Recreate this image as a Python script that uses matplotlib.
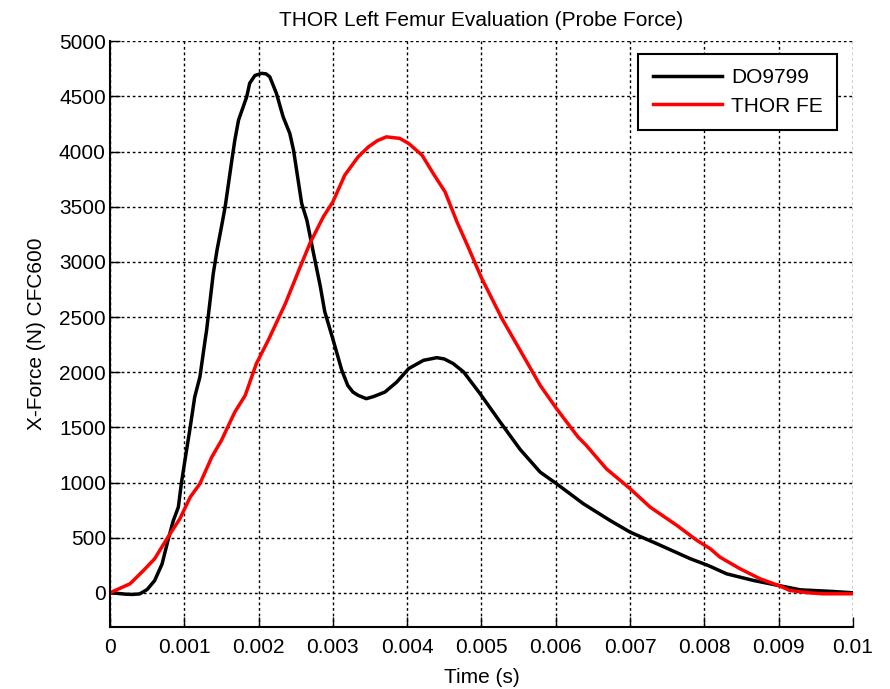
import numpy as np
import matplotlib.pyplot as plt

plt.rcParams['font.family'] = ['Liberation Sans', 'DejaVu Sans']

# DO9799 probe force, time in ms and force in N
do_t = [0.0, 0.1, 0.2, 0.3, 0.4, 0.5, 0.6, 0.7, 0.78, 0.85, 0.92, 0.96, 1.02,
        1.08, 1.14, 1.21, 1.28, 1.30, 1.39, 1.44, 1.50, 1.55, 1.64, 1.68, 1.73,
        1.84, 1.88, 1.95, 2.04, 2.10, 2.15, 2.24, 2.33, 2.42, 2.47, 2.58, 2.65,
        2.74, 2.83, 2.89, 3.00, 3.12, 3.20, 3.27, 3.34, 3.45, 3.55, 3.70, 3.86,
        4.02, 4.22, 4.40, 4.50, 4.62, 4.76, 4.98, 5.25, 5.52, 5.79, 6.01, 6.37,
        6.73, 7.00, 7.36, 7.81, 8.05, 8.30, 8.66, 9.00, 9.29, 9.73, 10.0]
do_f = [0, -5, -12, -15, -10, 30, 110, 260, 475, 650, 777, 990, 1250,
        1503, 1775, 1957, 2290, 2380, 2895, 3106, 3318, 3500, 3923, 4104, 4286,
        4497, 4620, 4690, 4710, 4705, 4679, 4528, 4316, 4165, 4014, 3530, 3378,
        3076, 2780, 2550, 2300, 2017, 1880, 1820, 1790, 1760, 1780, 1820, 1911,
        2033, 2108, 2132, 2120, 2078, 2002, 1806, 1550, 1300, 1094, 989, 808,
        656, 550, 445, 309, 248, 172, 112, 66, 27, 12, 0]

# THOR FE probe force
fe_t = [0.0, 0.27, 0.45, 0.60, 0.78, 0.94, 1.08, 1.21, 1.37, 1.50, 1.68, 1.82,
        1.97, 2.13, 2.36, 2.56, 2.69, 2.87, 3.00, 3.16, 3.34, 3.48, 3.60, 3.72,
        3.90, 4.02, 4.20, 4.35, 4.51, 4.67, 4.82, 5.00, 5.28, 5.52, 5.79, 6.01,
        6.30, 6.41, 6.68, 7.00, 7.27, 7.63, 7.90, 8.08, 8.21, 8.48, 8.75, 9.00,
        9.15, 9.40, 9.60, 10.0]
fe_f = [0, 82, 202, 308, 505, 671, 868, 989, 1231, 1382, 1639, 1790,
        2078, 2290, 2622, 2955, 3167, 3408, 3545, 3787, 3953, 4044, 4100, 4134,
        4120, 4074, 3968, 3802, 3635, 3363, 3136, 2855, 2480, 2199, 1881, 1670,
        1412, 1337, 1125, 944, 777, 611, 475, 399, 323, 218, 127, 66,
        21, 0, -9, -9]

xticks = [0, 0.001, 0.002, 0.003, 0.004, 0.005, 0.006, 0.007, 0.008, 0.009, 0.01]
xticklabels = ['0', '0.001', '0.002', '0.003', '0.004', '0.005', '0.006',
               '0.007', '0.008', '0.009', '0.01']
yticks = np.arange(0, 5001, 500)

fig = plt.figure(figsize=(8.9, 6.89), dpi=100)
ax = fig.add_axes([0.1236, 0.09, 0.8348, 0.85])

ax.plot(np.array(do_t) * 1e-3, do_f, color='black', lw=2.5, label='DO9799')
ax.plot(np.array(fe_t) * 1e-3, fe_f, color='red', lw=2.5, label='THOR FE')

ax.set_xlim(0, 0.01)
ax.set_ylim(-310, 5000)
ax.set_xticks(xticks)
ax.set_xticklabels(xticklabels)
ax.set_yticks(yticks)
ax.tick_params(direction='in', length=7.5, width=1, labelsize=15,
               top=False, right=False)
ax.tick_params(axis='x', pad=8)
ax.tick_params(axis='y', pad=3)
ax.grid(True, color='black', linestyle=(0, (2, 2)), linewidth=1)

for side in ['top', 'right']:
    ax.spines[side].set_visible(False)
for side in ['left', 'bottom']:
    ax.spines[side].set_linewidth(1.5)

ax.set_xlabel('Time (s)', fontsize=15, labelpad=8)
ax.set_ylabel('X-Force (N) CFC600', fontsize=15, labelpad=9)
ax.set_title('THOR Left Femur Evaluation (Probe Force)', fontsize=15, pad=11)

leg = ax.legend(loc='upper right', bbox_to_anchor=(0.979, 0.979), fontsize=15,
                fancybox=False, framealpha=1, edgecolor='black',
                handlelength=3.3, handletextpad=0.45, borderpad=0.7,
                labelspacing=0.45, borderaxespad=0)
leg.get_frame().set_linewidth(1.5)

fig.savefig('out.png', dpi=100)
